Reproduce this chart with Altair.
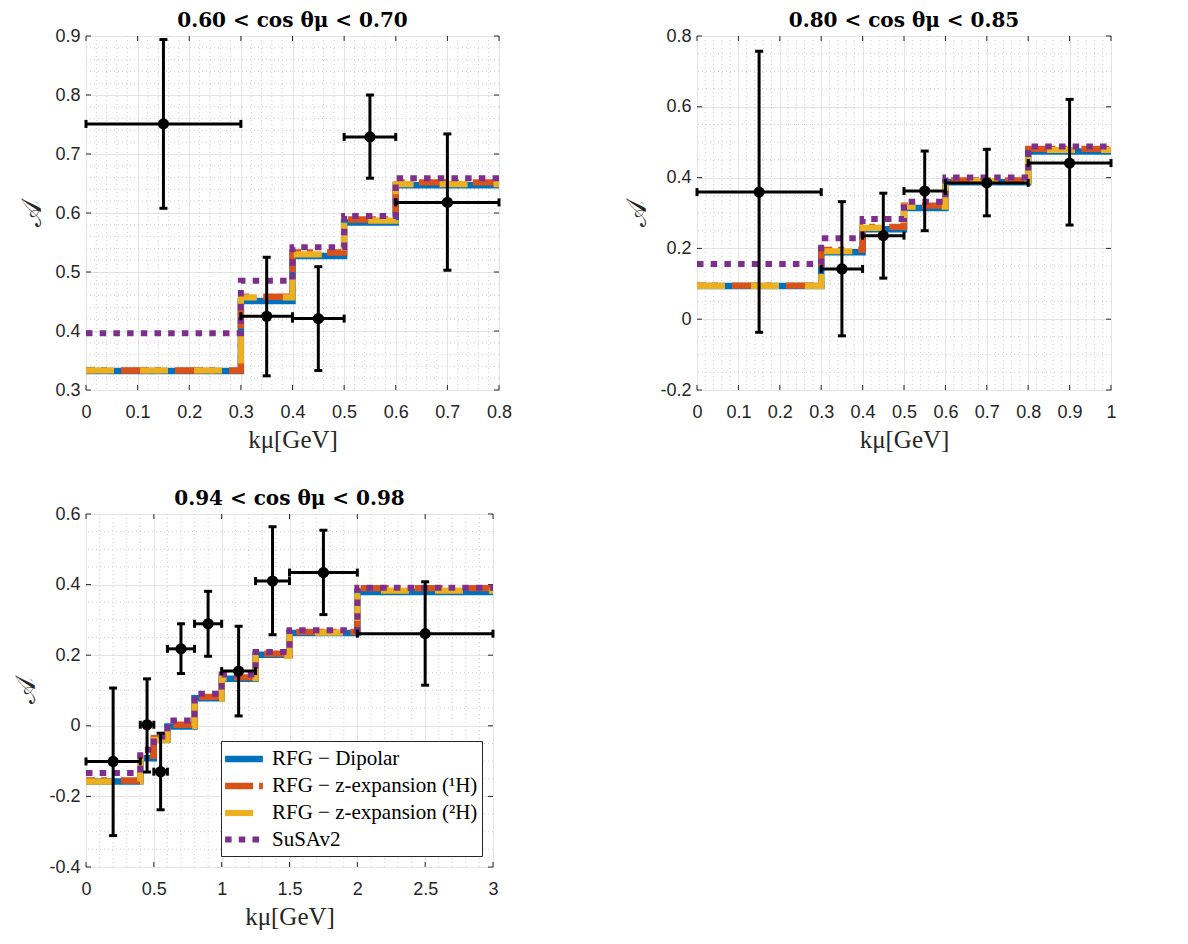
import altair as alt
import pandas as pd

MODELS = ["RFG − Dipolar", "RFG − z-expansion (¹H)", "RFG − z-expansion (²H)", "SuSAv2"]
COLORS = ["#0072BD", "#D95319", "#EDB120", "#7E2F8E"]
DASHES = [[1, 0], [28, 6, 6, 14], [28, 26], [6.5, 7.2]]
WIDTHS = [6.5, 6, 6, 6.5]
DASH_OFFSETS = [0, 19, 0, 0]

# ---- Panel 1: 0.60 < cos theta < 0.70
P1_EDGES = [0.0, 0.3, 0.4, 0.5, 0.6, 0.8]
P1_DIP = [0.332, 0.451, 0.527, 0.584, 0.647]
P1_Z1H = [0.333, 0.458, 0.533, 0.589, 0.652]
P1_Z2H = [0.333, 0.457, 0.530, 0.587, 0.649]
P1_SUSA = [0.396, 0.485, 0.542, 0.595, 0.659]
P1_X = [0.15, 0.35, 0.45, 0.55, 0.70]
P1_XLO = [0.0, 0.3, 0.4, 0.5, 0.6]
P1_XHI = [0.3, 0.4, 0.5, 0.6, 0.8]
P1_Y = [0.751, 0.425, 0.421, 0.729, 0.618]
P1_YLO = [0.608, 0.324, 0.333, 0.659, 0.503]
P1_YHI = [0.894, 0.525, 0.509, 0.800, 0.734]

# ---- Panel 2: 0.80 < cos theta < 0.85
P2_EDGES = [0.0, 0.3, 0.4, 0.5, 0.6, 0.8, 1.0]
P2_DIP = [0.094, 0.189, 0.254, 0.314, 0.387, 0.474]
P2_Z1H = [0.095, 0.196, 0.261, 0.321, 0.392, 0.481]
P2_Z2H = [0.094, 0.192, 0.258, 0.318, 0.390, 0.478]
P2_SUSA = [0.156, 0.229, 0.283, 0.332, 0.400, 0.488]
P2_X = [0.15, 0.35, 0.45, 0.55, 0.70, 0.90]
P2_XLO = [0.0, 0.3, 0.4, 0.5, 0.6, 0.8]
P2_XHI = [0.3, 0.4, 0.5, 0.6, 0.8, 1.0]
P2_Y = [0.359, 0.142, 0.236, 0.362, 0.385, 0.441]
P2_YLO = [-0.037, -0.047, 0.116, 0.250, 0.292, 0.266]
P2_YHI = [0.757, 0.332, 0.356, 0.475, 0.480, 0.621]

# ---- Panel 3: 0.94 < cos theta < 0.98
P3_EDGES = [0.0, 0.4, 0.5, 0.6, 0.8, 1.0, 1.25, 1.5, 2.0, 3.0]
P3_DIP = [-0.158, -0.092, -0.040, -0.002, 0.078, 0.133, 0.201, 0.263, 0.379]
P3_Z1H = [-0.155, -0.085, -0.035, 0.003, 0.082, 0.137, 0.204, 0.266, 0.390]
P3_Z2H = [-0.158, -0.090, -0.040, 0.000, 0.077, 0.135, 0.198, 0.264, 0.383]
P3_SUSA = [-0.134, -0.068, -0.030, 0.015, 0.091, 0.145, 0.209, 0.271, 0.391]
P3_X = [0.2, 0.45, 0.55, 0.7, 0.9, 1.125, 1.375, 1.75, 2.5]
P3_XLO = [0.0, 0.4, 0.5, 0.6, 0.8, 1.0, 1.25, 1.5, 2.0]
P3_XHI = [0.4, 0.5, 0.6, 0.8, 1.0, 1.25, 1.5, 2.0, 3.0]
P3_Y = [-0.101, 0.003, -0.130, 0.218, 0.289, 0.155, 0.410, 0.434, 0.261]
P3_YLO = [-0.311, -0.131, -0.238, 0.148, 0.197, 0.028, 0.258, 0.315, 0.115]
P3_YHI = [0.107, 0.133, -0.021, 0.289, 0.381, 0.282, 0.564, 0.554, 0.408]

TXT = "#262626"
GRID = "#e4e4e4"
MINOR = "#cfcfcf"


def minor_vals(lo, hi, step, majors):
    n = int(round((hi - lo) / step))
    vals = [round(lo + i * step, 5) for i in range(n + 1)]
    return [v for v in vals if all(abs(v - m) > 1e-6 for m in majors)]


def steps(edges, vals, model):
    xs = list(edges[:-1]) + [edges[-1]]
    ys = list(vals) + [vals[-1]]
    return pd.DataFrame({"k": xs, "A": ys, "model": model})


def panel(title, edges, series, pts, xdom, ydom, xmaj, ymaj, xstep, ystep, w, h, show_legend, ytp):
    xsc = alt.Scale(domain=xdom, nice=False, zero=False)
    ysc = alt.Scale(domain=ydom, nice=False, zero=False)
    common = dict(labelExpr="datum.value + ''", labelFont="Liberation Sans", labelFontSize=18,
                  labelColor=TXT, grid=True, gridColor=GRID, gridWidth=1, ticks=False, tickSize=0,
                  domain=False, titleFont="Liberation Serif", titleFontWeight="normal", titleColor=TXT)
    xax = alt.Axis(values=xmaj, title="kμ[GeV]", labelPadding=13, titleFontSize=25, titlePadding=6,
                   labelFlush=False, **common)
    yax = alt.Axis(values=ymaj, title="𝒜", labelPadding=6, titleFontSize=28, titlePadding=ytp, **common)

    def X(f):
        return alt.X(f, type="quantitative", scale=xsc, axis=xax)

    def Y(f):
        return alt.Y(f, type="quantitative", scale=ysc, axis=yax)

    layers = []
    gx = pd.DataFrame({"v": minor_vals(xdom[0], xdom[1], xstep, xmaj)})
    gy = pd.DataFrame({"v": minor_vals(ydom[0], ydom[1], ystep, ymaj)})
    layers.append(alt.Chart(gx).mark_rule(color=MINOR, strokeWidth=1, strokeDash=[1, 3]).encode(x=X("v")))
    layers.append(alt.Chart(gy).mark_rule(color=MINOR, strokeWidth=1, strokeDash=[1, 3]).encode(y=Y("v")))

    tx = pd.DataFrame({"v": xmaj})
    ty = pd.DataFrame({"v": ymaj})
    tk = dict(color=TXT, strokeWidth=1)
    layers.append(alt.Chart(tx).mark_rule(**tk).encode(x=X("v"), y=alt.value(h - 5), y2=alt.value(h)))
    layers.append(alt.Chart(tx).mark_rule(**tk).encode(x=X("v"), y=alt.value(0), y2=alt.value(5)))
    layers.append(alt.Chart(ty).mark_rule(**tk).encode(y=Y("v"), x=alt.value(0), x2=alt.value(5)))
    layers.append(alt.Chart(ty).mark_rule(**tk).encode(y=Y("v"), x=alt.value(w - 5), x2=alt.value(w)))

    if show_legend:
        leg = alt.Legend(title=None, orient="bottom-right", offset=11,
                         symbolType="M-1.8,0H1.8", symbolSize=441, symbolOffset=5,
                         labelFont="Liberation Serif", labelFontSize=21,
                         labelColor="black", fillColor="white", strokeColor=TXT,
                         padding=4, rowPadding=0, labelOffset=14, labelLimit=500)
    else:
        leg = None

    for m, vals, off in zip(MODELS, series, DASH_OFFSETS):
        df = steps(edges, vals, m)
        layers.append(
            alt.Chart(df).mark_line(interpolate="step-after", strokeCap="butt", strokeJoin="miter",
                                    strokeDashOffset=off).encode(
                x=X("k"), y=Y("A"),
                color=alt.Color("model:N", scale=alt.Scale(domain=MODELS, range=COLORS), legend=leg),
                strokeDash=alt.StrokeDash("model:N", scale=alt.Scale(domain=MODELS, range=DASHES), legend=leg),
                strokeWidth=alt.StrokeWidth("model:N", scale=alt.Scale(domain=MODELS, range=WIDTHS), legend=leg),
            )
        )

    x, xlo, xhi, y, ylo, yhi = pts
    dp = pd.DataFrame({"x": x, "xlo": xlo, "xhi": xhi, "y": y, "ylo": ylo, "yhi": yhi})
    base = alt.Chart(dp)
    eb = dict(color="black", strokeWidth=3)
    layers.append(base.mark_rule(**eb).encode(x=X("x"), y=Y("ylo"), y2="yhi"))
    layers.append(base.mark_rule(**eb).encode(x=X("xlo"), x2="xhi", y=Y("y")))
    cap = dict(color="black", size=8, thickness=3, opacity=1)
    layers.append(base.mark_tick(orient="horizontal", **cap).encode(x=X("x"), y=Y("ylo")))
    layers.append(base.mark_tick(orient="horizontal", **cap).encode(x=X("x"), y=Y("yhi")))
    layers.append(base.mark_tick(orient="vertical", **cap).encode(x=X("xlo"), y=Y("y")))
    layers.append(base.mark_tick(orient="vertical", **cap).encode(x=X("xhi"), y=Y("y")))
    layers.append(base.mark_point(filled=True, shape="circle", size=125, color="black", opacity=1).encode(
        x=X("x"), y=Y("y")))

    return alt.layer(*layers).properties(
        width=w, height=h,
        title=alt.TitleParams(title, font="DejaVu Serif", fontSize=20, fontWeight="bold",
                              color="black", offset=-4, anchor="middle"),
    )


p1 = panel("0.60 < cos θμ < 0.70", P1_EDGES, [P1_DIP, P1_Z1H, P1_Z2H, P1_SUSA],
           (P1_X, P1_XLO, P1_XHI, P1_Y, P1_YLO, P1_YHI),
           [0, 0.8], [0.3, 0.9],
           [0, 0.1, 0.2, 0.3, 0.4, 0.5, 0.6, 0.7, 0.8], [0.3, 0.4, 0.5, 0.6, 0.7, 0.8, 0.9],
           0.02, 0.02, 413, 354, False, 8)
p2 = panel("0.80 < cos θμ < 0.85", P2_EDGES, [P2_DIP, P2_Z1H, P2_Z2H, P2_SUSA],
           (P2_X, P2_XLO, P2_XHI, P2_Y, P2_YLO, P2_YHI),
           [0, 1], [-0.2, 0.8],
           [0, 0.1, 0.2, 0.3, 0.4, 0.5, 0.6, 0.7, 0.8, 0.9, 1], [-0.2, 0, 0.2, 0.4, 0.6, 0.8],
           0.02, 0.05, 414, 354, False, 8)
p3 = panel("0.94 < cos θμ < 0.98", P3_EDGES, [P3_DIP, P3_Z1H, P3_Z2H, P3_SUSA],
           (P3_X, P3_XLO, P3_XHI, P3_Y, P3_YLO, P3_YHI),
           [0, 3], [-0.4, 0.6],
           [0, 0.5, 1, 1.5, 2, 2.5, 3], [-0.4, -0.2, 0, 0.2, 0.4, 0.6],
           0.1, 0.05, 407, 353, True, 8)

ind = dict(color="independent", strokeDash="independent", strokeWidth="independent")
top = alt.hconcat(p1, p2, spacing=110).resolve_scale(**ind)
chart = alt.vconcat(top, p3, spacing=35).resolve_scale(**ind).configure(
    padding={"left": 4, "top": 2, "right": 5, "bottom": 0}, background="white"
).configure_view(stroke=TXT, strokeWidth=1)

chart.save("out.html", embed_options={"renderer": "svg", "actions": False})
